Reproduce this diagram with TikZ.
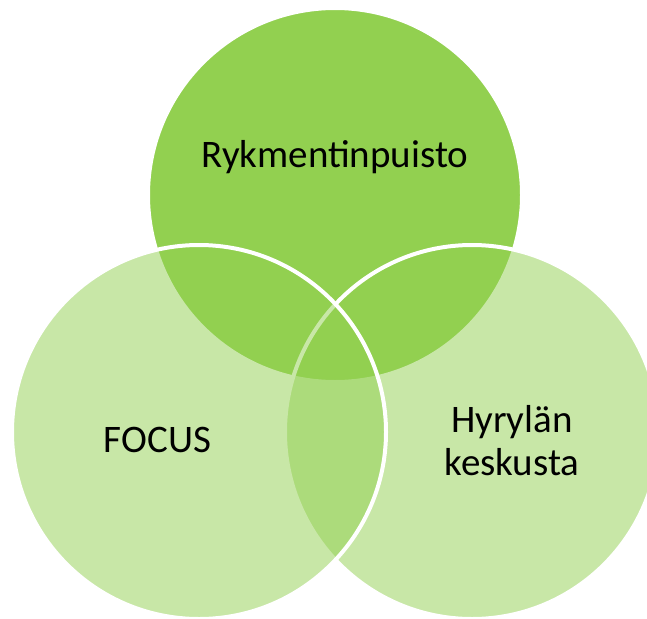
\documentclass[tikz,border=0pt]{standalone}
\usepackage{fontspec}
\setmainfont{Carlito}
\definecolor{vgreen}{RGB}{146,208,80}
\begin{document}
\begin{tikzpicture}[x=1pt,y=-1pt,
  ring/.style={draw=white,line width=4pt},
  lbl/.style={font=\fontsize{39}{43}\selectfont,text=black,inner sep=0pt,anchor=base,align=center}]
\useasboundingbox (0,0) rectangle (647,618);
\fill[white] (0,0) rectangle (647,618);
\path[ring,fill=vgreen] (335,195) circle (187);
\path[ring,fill=vgreen,fill opacity=0.5] (472,432) circle (187);
\path[ring,fill=vgreen,fill opacity=0.5] (199,432) circle (187);
\node[lbl] (top) at (335,167) {Rykmentinpuisto};
\node[lbl] (left) at (157.5,452) {FOCUS};
\node[lbl] (right) at (512,475) {Hyrylän\\keskusta};
\end{tikzpicture}
\end{document}
